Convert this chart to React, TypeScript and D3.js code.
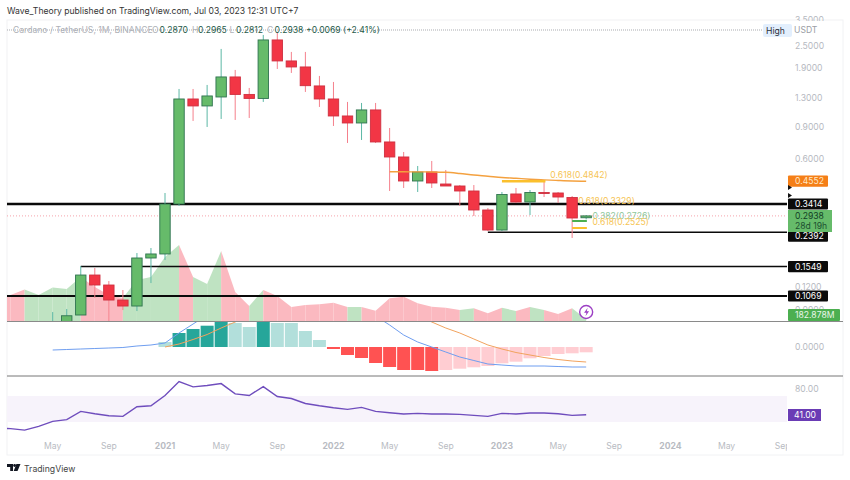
import React from "react";
import * as d3 from "d3";

const FONT = "Inter, 'Noto Sans', sans-serif";

// Months are counted from Jan 2020 = 0
const candleStart = 4;
const opens = [0.07, 0.0745, 0.0841, 0.1393, 0.1228, 0.1016, 0.0942, 0.1727, 0.1817, 0.3414, 1.285, 1.177, 1.318, 1.697, 1.361, 1.294, 2.707, 2.077, 1.925, 1.515, 1.285, 1.037, 0.9493, 1.119, 0.747, 0.618, 0.4565, 0.5114, 0.4394, 0.4285, 0.4023, 0.3165, 0.2458, 0.3874, 0.3501, 0.3947, 0.3923, 0.3706, 0.287];
const highs = [0.0873, 0.0907, 0.156, 0.1522, 0.1291, 0.1153, 0.1839, 0.1959, 0.3923, 1.458, 1.458, 1.534, 2.417, 1.854, 1.477, 2.884, 2.993, 2.327, 2.327, 1.719, 1.593, 1.238, 1.222, 1.222, 0.891, 0.6583, 0.5516, 0.5876, 0.5245, 0.4338, 0.4338, 0.3246, 0.3973, 0.4178, 0.4073, 0.4565, 0.3973, 0.3776, 0.2965];
const lows = [0.068, 0.072, 0.0841, 0.1042, 0.076, 0.0895, 0.0884, 0.1259, 0.1683, 0.3329, 0.9737, 0.9025, 0.9986, 0.986, 1.011, 1.238, 1.877, 1.785, 1.404, 1.162, 0.914, 0.7375, 0.766, 0.7375, 0.4023, 0.4178, 0.3973, 0.4178, 0.4285, 0.3329, 0.2934, 0.2427, 0.2427, 0.3457, 0.297, 0.3729, 0.3457, 0.2223, 0.2812];
const closes = [0.0745, 0.0833, 0.1393, 0.1228, 0.1016, 0.0942, 0.1727, 0.1817, 0.3414, 1.285, 1.177, 1.335, 1.697, 1.361, 1.294, 2.707, 2.077, 1.925, 1.52, 1.285, 1.037, 0.9493, 1.119, 0.747, 0.618, 0.4565, 0.5114, 0.4451, 0.4285, 0.4023, 0.3165, 0.2458, 0.3849, 0.3501, 0.3947, 0.3923, 0.3729, 0.2861, 0.2938];

// Volume in millions, from Jan 2020
const volumes = [2500, 2600, 3150, 2600, 3350, 3200, 4400, 3400, 2600, 2300, 4100, 4400, 6400, 7600, 4400, 3700, 7000, 2900, 1500, 3100, 2500, 1400, 1600, 1670, 1830, 1400, 1400, 1030, 2270, 2430, 1770, 1430, 1330, 1100, 1270, 770, 1330, 1000, 1400, 1100, 700, 1270, 183];
const volumeUp = [false, false, false, true, true, true, true, false, false, false, true, true, true, true, false, true, true, false, false, true, false, false, false, false, false, false, true, false, false, false, false, false, false, false, true, false, false, true, false, true, false, false, true];

// MACD, from May 2020 for the line, from Jan 2021 for signal and histogram
const macdLine = [-0.03, -0.025, -0.02, -0.015, -0.01, -0.005, 0.01, 0.02, 0.04, 0.14, 0.23, 0.32, 0.42, 0.49, 0.52, 0.62, 0.64, 0.63, 0.59, 0.54, 0.49, 0.44, 0.39, 0.31, 0.22, 0.12, 0.05, 0, -0.05, -0.1, -0.135, -0.17, -0.18, -0.19, -0.19, -0.19, -0.195, -0.2, -0.2];
const macdSignal = [0, 0.03, 0.075, 0.125, 0.19, 0.25, 0.31, 0.37, 0.42, 0.46, 0.49, 0.51, 0.52, 0.515, 0.5, 0.48, 0.45, 0.4, 0.33, 0.25, 0.19, 0.14, 0.08, 0.02, -0.02, -0.055, -0.08, -0.105, -0.125, -0.14, -0.15];
const macdHist = [0.05, 0.14, 0.18, 0.213, 0.26, 0.24, 0.2, 0.26, 0.24, 0.24, 0.16, 0.07, -0.02, -0.08, -0.11, -0.16, -0.2, -0.23, -0.23, -0.24, -0.23, -0.217, -0.203, -0.19, -0.163, -0.147, -0.113, -0.09, -0.07, -0.063, -0.053];
const histStrong = [false, true, true, true, true, false, false, true, false, false, false, false, true, true, true, true, true, true, true, true, false, false, false, false, false, false, false, false, false, false, false];

// RSI, from Jan 2020
const rsiValues = [20.5, 20, 17.75, 23.5, 31, 33.5, 46, 42.5, 39.5, 38.5, 53, 54.5, 70, 91, 83, 85, 88, 72.5, 70, 83.5, 68.5, 65.5, 58, 54.5, 51.5, 49, 52, 46, 44, 42, 43, 42, 42, 41.5, 40, 38.5, 43, 42, 43.5, 43.5, 42.5, 40, 41];

// Moving average on the price pane, from May 2022
const emaStart = 28;
const emaValues = [0.5133, 0.5126, 0.512, 0.5114, 0.5093, 0.5017, 0.4923, 0.4849, 0.4771, 0.4722, 0.467, 0.4629, 0.4594, 0.4565, 0.4552];

const priceTicks = [3.5, 2.5, 1.9, 1.3, 0.9, 0.6, 0.12, 0.09];
const timeTicks = [
  { m: 4, t: "May" }, { m: 8, t: "Sep" }, { m: 12, t: "2021", b: true }, { m: 16, t: "May" }, { m: 20, t: "Sep" },
  { m: 24, t: "2022", b: true }, { m: 28, t: "May" }, { m: 32, t: "Sep" }, { m: 36, t: "2023", b: true },
  { m: 40, t: "May" }, { m: 44, t: "Sep" }, { m: 48, t: "2024", b: true }, { m: 52, t: "May" }, { m: 56, t: "Sep" },
];
const hLevels = [
  { p: 0.3414, from: -1, w: 2.4 },
  { p: 0.2392, from: 35, w: 1.6 },
  { p: 0.1549, from: 6, w: 1.5 },
  { p: 0.1069, from: -1, w: 1.8 },
];
const fibLabels = [
  { t: "0.618(0.4842)", p: 0.4842, m: 39.45, c: "#f6c453", dy: 2 },
  { t: "0.618(0.3329)", p: 0.3329, m: 41.44, c: "#f6c453", dy: -2 },
  { t: "0.382(0.2726)", p: 0.2726, m: 42.45, c: "#8fc79b", dy: -3 },
  { t: "0.618(0.2525)", p: 0.2525, m: 42.45, c: "#f6c453", dy: -3 },
];
const fibSegments = [
  { p: 0.4552, from: 36, to: 39.1, c: "#fbc02d", w: 2.6 },
  { p: 0.2754, from: 41, to: 42.05, c: "#4caf50", w: 2 },
  { p: 0.2522, from: 41, to: 42.05, c: "#fbc02d", w: 2 },
];
const priceBoxes = [
  { t: "0.4552", p: 0.4552, bg: "#f57f17", fg: "#ffe9c9", w: 40 },
  { t: "0.3414", p: 0.3414, bg: "#0b0b0b", fg: "#fff", w: 40 },
  { t: "0.2392", p: 0.2272, bg: "#0b0b0b", fg: "#fff", w: 40 },
  { t: "0.1549", p: 0.1549, bg: "#0b0b0b", fg: "#fff", w: 40 },
  { t: "0.1069", p: 0.1069, bg: "#0b0b0b", fg: "#fff", w: 40 },
];

export default function App() {
  const L = 7, PR = 787, R = 843;
  const x = d3.scaleLinear().domain([12, 48]).range([165, 670.4]);
  const y = d3.scaleLog().domain([0.1069, 0.3414]).range([296, 204]);
  const yVol = d3.scaleLinear().domain([0, 7600]).range([321, 245]);
  const yMacd = d3.scaleLinear().domain([0, 0.26]).range([347, 321]);
  const yRsi = d3.scaleLinear().domain([30, 70]).range([422, 395.5]);

  const macdPath = d3.line<number>().x((_, i) => x(4 + i)).y((d) => yMacd(d));
  const sigPath = d3.line<number>().x((_, i) => x(12 + i)).y((d) => yMacd(d));
  const rsiPath = d3.line<number>().x((_, i) => x(i)).y((d) => yRsi(d));
  const emaPath = d3.line<number>().x((_, i) => x(emaStart + i)).y((d) => y(d)).curve(d3.curveMonotoneX);
  const volArea = d3.area<number>().x((d) => x(d)).y0(321).y1((d) => yVol(volumes[d]));

  const GREEN = "#66bb6a", GREEN_B = "#2f7350", GREEN_W = "#5cb8a6";
  const RED = "#f23645", RED_B = "#cf3040", RED_W = "#f5808c";
  const lastY = y(0.2938);
  const TS = 8.6;

  return (
    <svg width={850} height={480} style={{ position: "absolute", left: 0, top: 0, background: "#fff", fontFamily: FONT }}>
      <defs>
        <clipPath id="pricePane"><rect x={L} y={20} width={PR - L} height={301} /></clipPath>
        <clipPath id="macdPane"><rect x={L} y={322} width={PR - L} height={54} /></clipPath>
        <clipPath id="plotAll"><rect x={L} y={20} width={PR - L} height={435} /></clipPath>
      </defs>

      <text x={7} y={14} fontSize={8.6} fill="#333">Wave_Theory published on TradingView.com, Jul 03, 2023 12:31 UTC+7</text>
      <rect x={L} y={20} width={R - L} height={435} fill="none" stroke="#f1f2f4" />

      <rect x={L} y={396} width={PR - L} height={26} fill="#f7f3fb" />

      <g clipPath="url(#pricePane)">
        {volumes.map((_, i) => i === 0 ? null : (
          <path key={i} d={volArea([i - 1, i]) as string} fill={volumeUp[i] ? "#bfe3c2" : "#fbb9c0"} />
        ))}
        <line x1={L} x2={PR} y1={lastY} y2={lastY} stroke="#f5a3ab" strokeWidth={1} strokeDasharray="1 2" />
        {hLevels.map((l, i) => (
          <line key={i} x1={l.from < 0 ? L : x(l.from)} x2={PR} y1={y(l.p)} y2={y(l.p)} stroke="#0a0a0a" strokeWidth={l.w} />
        ))}
        {opens.map((o, i) => {
          const c = closes[i], m = candleStart + i, up = c >= o;
          const top = y(Math.max(o, c)), bot = y(Math.min(o, c));
          return (
            <g key={i}>
              <line x1={x(m)} x2={x(m)} y1={y(highs[i])} y2={y(lows[i])} stroke={up ? GREEN_W : RED_W} strokeWidth={1} />
              <rect x={x(m) - 5.2} y={top} width={10.4} height={Math.max(bot - top, 1)} fill={up ? GREEN : RED} stroke={up ? GREEN_B : RED_B} strokeWidth={0.9} />
            </g>
          );
        })}
        <path d={emaPath(emaValues) as string} fill="none" stroke="#f4a13f" strokeWidth={1.4} />
        {fibSegments.map((s, i) => (
          <line key={i} x1={x(s.from)} x2={x(s.to)} y1={y(s.p)} y2={y(s.p)} stroke={s.c} strokeWidth={s.w} />
        ))}
        {fibLabels.map((f, i) => (
          <text key={i} x={x(f.m)} y={y(f.p) + f.dy} fontSize={TS} fill={f.c}>{f.t}</text>
        ))}
      </g>

      <g>
        <circle cx={x(42)} cy={312} r={6.5} fill="#fff" stroke="#9c3fc4" strokeWidth={1.4} />
        <path d={`M${x(42) + 1.5} 307.8l-3.6 5h2.4l-1 3.4 3.6-5h-2.4z`} fill="#9c3fc4" />
      </g>

      <g clipPath="url(#macdPane)">
        {macdHist.map((v, i) => {
          const m = 12 + i, col = v >= 0 ? (histStrong[i] ? "#26a69a" : "#b2dfdb") : (histStrong[i] ? "#ff5252" : "#ffcdd2");
          return <rect key={i} x={x(m) - 6.5} width={13} y={Math.min(yMacd(v), 347)} height={Math.abs(yMacd(v) - 347)} fill={col} />;
        })}
        <path d={macdPath(macdLine) as string} fill="none" stroke="#6f9ef0" strokeWidth={1} />
        <path d={sigPath(macdSignal) as string} fill="none" stroke="#f2a35e" strokeWidth={1} />
      </g>

      <line x1={L} x2={R} y1={321.5} y2={321.5} stroke="#8a8a8a" strokeWidth={1} />
      <line x1={L} x2={R} y1={376} y2={376} stroke="#777" strokeWidth={1} />

      <path d={rsiPath(rsiValues) as string} fill="none" stroke="#6f4dbd" strokeWidth={1.4} clipPath="url(#plotAll)" />

      <line x1={L} x2={762} y1={30} y2={30} stroke="#a9abb0" strokeDasharray="1 1" />
      <text x={13} y={33} fontSize={TS} fill="#aeb1b7">Cardano / TetherUS, 1M, BINANCE</text>
      <g fontSize={TS} fill="#aeb1b7">
        <text x={152} y={33}>O</text>
        <text x={192} y={33}>H</text>
        <text x={229.5} y={33}>L</text>
        <text x={267} y={33}>C</text>
      </g>
      <g fontSize={TS} fill="#1f5a4a">
        <text x={159.5} y={33}>0.2870</text>
        <text x={198} y={33}>0.2965</text>
        <text x={236} y={33}>0.2812</text>
        <text x={274.5} y={33}>0.2938</text>
        <text x={306} y={33}>+0.0069 (+2.41%)</text>
      </g>

      {priceTicks.map((p) => (
        <text key={p} x={795} y={y(p) + 3} fontSize={TS} fill="#b6b9bf">{p.toFixed(4)}</text>
      ))}
      <rect x={763} y={24} width={29} height={13} rx={2} fill="#e3effd" />
      <text x={766} y={33.5} fontSize={TS} fill="#2a2e39">High</text>
      <rect x={793} y={21} width={48} height={17} fill="#fff" />
      <text x={794} y={32.5} fontSize={TS} fill="#9a9da5">USDT</text>

      {priceBoxes.map((b, i) => (
        <g key={i}>
          <rect x={788} y={y(b.p) - 5.6} width={b.w} height={11.2} rx={1} fill={b.bg} />
          <text x={795} y={y(b.p) + 3} fontSize={TS} fill={b.fg}>{b.t}</text>
        </g>
      ))}
      <path d={`M788 185v5l4-2.5z`} fill="#111" />
      <path d={`M788 198v-5l4 2.5z`} fill="#111" />

      <rect x={788} y={210} width={44} height={22} fill="#66bb6a" />
      <text x={795} y={219} fontSize={TS} fill="#123f25">0.2938</text>
      <text x={795} y={229} fontSize={TS} fill="#1c4f30">28d 19h</text>

      <rect x={788} y={309} width={52} height={12} rx={1} fill="#4caf50" />
      <text x={795} y={318} fontSize={TS} fill="#e9f6ea">182.878M</text>

      <text x={795} y={yMacd(0) + 3} fontSize={TS} fill="#b6b9bf">0.0000</text>
      <text x={795} y={yRsi(80) + 3} fontSize={TS} fill="#b6b9bf">80.00</text>
      <rect x={788} y={409} width={33} height={12} fill="#6a3cb5" />
      <text x={794} y={418} fontSize={TS} fill="#fff">41.00</text>

      <g clipPath="url(#plotAll)">
        {timeTicks.map((t) => (
          <text key={t.m} x={x(t.m)} y={449} textAnchor="middle" fontSize={TS} fontWeight={t.b ? 700 : 400} fill="#b8bbc2">{t.t}</text>
        ))}
      </g>

      <g fill="#131722">
        <path d="M7 464h6v7h-2.8v-4H7z" />
        <circle cx={14.6} cy={465.5} r={1.4} />
        <path d="M16.4 464H20.5l-3 7h-3.8z" />
      </g>
      <text x={24} y={471.5} fontSize={8.7} fill="#444">TradingView</text>
    </svg>
  );
}
